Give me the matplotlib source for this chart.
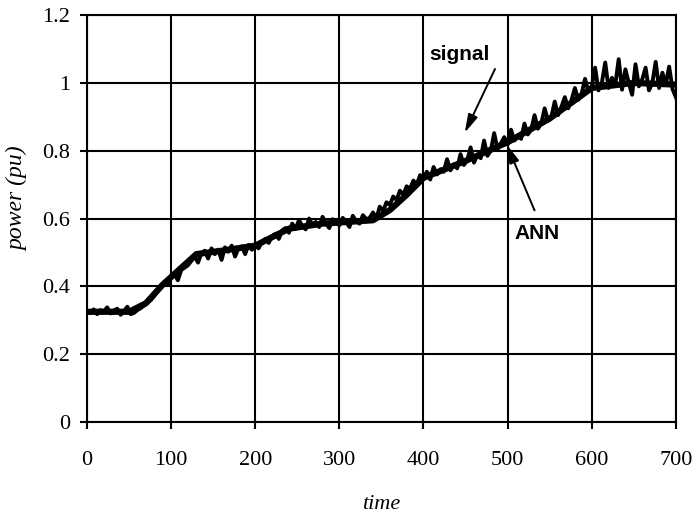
import numpy as np
import matplotlib
matplotlib.use("Agg")
import matplotlib.pyplot as plt
from matplotlib import font_manager

# ---- data ----
time_signal = list(range(0, 704, 4))
signal = [
    # 0..56
    0.328, 0.322, 0.332, 0.318, 0.330, 0.326, 0.338, 0.320, 0.329, 0.334, 0.316, 0.327, 0.340, 0.318, 0.322,
    # 60..96
    0.330, 0.336, 0.344, 0.352, 0.360, 0.372, 0.388, 0.398, 0.412, 0.405,
    # 100..196
    0.428, 0.436, 0.418, 0.448, 0.455, 0.462, 0.475, 0.488, 0.470, 0.498, 0.505, 0.482, 0.512,
    0.495, 0.508, 0.478, 0.515, 0.502, 0.520, 0.488, 0.512, 0.518, 0.495, 0.522, 0.508,
    # 200..296
    0.520, 0.512, 0.532, 0.540, 0.528, 0.548, 0.555, 0.540, 0.565, 0.572, 0.558, 0.585, 0.570,
    0.595, 0.578, 0.568, 0.600, 0.582, 0.590, 0.575, 0.605, 0.585, 0.572, 0.598, 0.588,
    # 300..396
    0.580, 0.602, 0.590, 0.575, 0.608, 0.592, 0.585, 0.610, 0.598, 0.602, 0.618, 0.600, 0.635,
    0.622, 0.648, 0.640, 0.665, 0.655, 0.682, 0.670, 0.695, 0.688, 0.712, 0.700, 0.728,
    # 400..496
    0.720, 0.738, 0.715, 0.752, 0.730, 0.745, 0.738, 0.775, 0.742, 0.760, 0.748, 0.790, 0.758,
    0.772, 0.810, 0.765, 0.788, 0.778, 0.830, 0.785, 0.800, 0.852, 0.805, 0.822, 0.840,
    # 500..596
    0.818, 0.862, 0.830, 0.845, 0.835, 0.880, 0.848, 0.862, 0.905, 0.865, 0.880, 0.925, 0.888,
    0.900, 0.945, 0.905, 0.930, 0.958, 0.925, 0.950, 0.985, 0.950, 0.968, 1.012, 0.975,
    # 600..700
    0.990, 1.045, 0.978, 1.000, 1.060, 0.985, 1.015, 0.995, 1.070, 0.980, 1.040, 1.000, 0.965,
    1.055, 0.990, 1.010, 1.045, 0.978, 1.000, 1.062, 0.985, 1.030, 0.995, 1.048, 0.982, 0.958,
]
time_ann = [0, 50, 70, 90, 110, 130, 160, 200, 240, 280, 340, 360, 380, 400, 450, 500, 550, 600, 650, 700]
ann = [0.325, 0.325, 0.35, 0.405, 0.45, 0.495, 0.505, 0.52, 0.57, 0.585, 0.595, 0.625, 0.67, 0.72, 0.77, 0.825, 0.895, 0.985, 1.0, 0.995]

x_ticks = [0, 100, 200, 300, 400, 500, 600, 700]
y_ticks = [0, 0.2, 0.4, 0.6, 0.8, 1.0, 1.2]
y_tick_labels = ["0", "0.2", "0.4", "0.6", "0.8", "1", "1.2"]

# ---- fonts ----
avail = {f.name for f in font_manager.fontManager.ttflist}
serif = "Liberation Serif" if "Liberation Serif" in avail else "DejaVu Serif"
sans = "Liberation Sans" if "Liberation Sans" in avail else "DejaVu Sans"

fig = plt.figure(figsize=(6.92, 5.17), dpi=100)
ax = fig.add_axes([0.1257, 0.1838, 0.851, 0.787])

ax.plot(time_signal, signal, color="black", lw=2.8, zorder=3)
ax.plot(time_ann, ann, color="black", lw=4.5, solid_capstyle="round", zorder=4)

ax.set_xlim(0, 700)
ax.set_ylim(0, 1.2)
ax.set_xticks(x_ticks)
ax.set_yticks(y_ticks)
ax.set_yticklabels(y_tick_labels)
ax.grid(True, color="black", lw=1.5)
ax.set_axisbelow(True)
for s in ax.spines.values():
    s.set_linewidth(1.5)
    s.set_color("black")
ax.tick_params(direction="out", length=5, width=1.5, colors="black", pad=7)
for lab in ax.get_xticklabels() + ax.get_yticklabels():
    lab.set_fontfamily(serif)
    lab.set_fontsize(16)
ax.tick_params(axis="x", pad=16)

ax.set_xlabel("time", fontfamily=serif, fontstyle="italic", fontsize=16, va="center")
ax.xaxis.set_label_coords(0.5, -0.203)
ax.set_ylabel("power (pu)", fontfamily=serif, fontstyle="italic", fontsize=17)
ax.yaxis.set_label_coords(-0.1, 0.55)

arrow_style = dict(arrowstyle="-|>,head_length=1.1,head_width=0.3", color="black",
                   lw=1.4, shrinkA=0, shrinkB=0)
ax.annotate("", xy=(449, 0.853), xytext=(485, 1.041), arrowprops=arrow_style, zorder=6)
ax.annotate("", xy=(499, 0.818), xytext=(532, 0.624), arrowprops=arrow_style, zorder=6)
ax.text(443, 1.085, "signal", ha="center", va="center", fontfamily=sans,
        fontweight="bold", fontsize=15, zorder=6)
ax.text(535, 0.556, "ANN", ha="center", va="center", fontfamily=sans,
        fontweight="bold", fontsize=15, zorder=6)

fig.savefig("out.png", dpi=100)
